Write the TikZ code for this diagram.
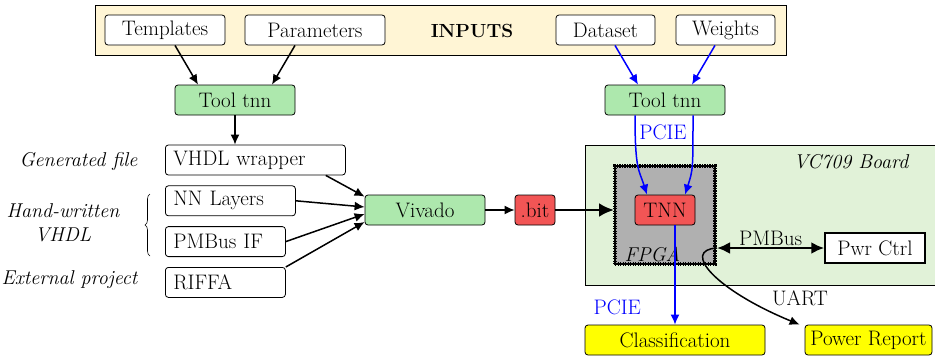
\documentclass[tikz,border=0pt]{standalone}
\usetikzlibrary{arrows.meta,positioning,decorations.pathreplacing}

\definecolor{inyellow}{RGB}{255,245,213}
\definecolor{toolgreen}{RGB}{173,232,173}
\definecolor{boardgreen}{RGB}{225,242,216}
\definecolor{bitred}{RGB}{242,85,85}
\definecolor{fpgagray}{RGB}{176,176,176}
\definecolor{outyellow}{RGB}{255,255,0}

\tikzset{
  box/.style={draw, rounded corners=3pt, line width=0.8pt, minimum height=30pt, inner sep=2pt},
  inbox/.style={box, fill=white},
  toolbox/.style={box, fill=toolgreen, minimum width=120pt},
  redbox/.style={box, fill=bitred},
  outbox/.style={box, fill=outyellow},
  srcbox/.style={box, fill=white, align=left, inner xsep=8pt, text width=#1},
  lbl/.style={font=\fontsize{20}{24}\selectfont\itshape},
  arr/.style={-{Latex[length=10pt,width=9pt]}, line width=1.5pt},
  blarr/.style={arr, blue},
  fatarr/.style={-{Latex[length=15pt,width=14pt]}, line width=2.8pt},
}

\begin{document}
\begin{tikzpicture}[x=1pt, y=-1pt, font=\fontsize{21}{25}\selectfont]
\useasboundingbox (0,0) rectangle (935,359);

    % inputs
    \node[draw, fill=inyellow, line width=0.8pt, minimum width=691pt, minimum height=50pt, inner sep=0pt] (inputs) at (440.5,30) {};
    \node[inbox, minimum width=120pt] (templates) at (165,30) {Templates};
    \node[inbox, minimum width=140pt, right of=templates, node distance=150pt] (params) {Parameters};
    \node[font=\fontsize{19}{23}\selectfont\bfseries] (inlabel) at (472,31) {INPUTS};
    \node[inbox, minimum width=99pt] (dataset) at (605.5,30) {Dataset};
    \node[inbox, minimum width=99pt, right of=dataset, node distance=120pt] (weights) {Weights};

    \node[toolbox] (tool1) at (235,100) {Tool tnn};
    \node[toolbox, right of=tool1, node distance=430pt] (tool2) {Tool tnn};

    % vhdl sources
    \node[srcbox=164pt, anchor=west] (wrapper) at (165,160) {VHDL wrapper};
    \node[srcbox=114pt, below right=10pt and 0pt of wrapper.south west] (nnlayers) {NN Layers};
    \node[srcbox=104pt, below right=10pt and 0pt of nnlayers.south west] (pmbusif) {PMBus IF};
    \node[srcbox=104pt, below right=10pt and 0pt of pmbusif.south west] (riffa) {RIFFA};

    \node[lbl, anchor=east] (genlbl) at (141,161) {Generated file};
    \node[lbl, align=center] (handlbl) at (63,223) {Hand-written\\VHDL};
    \node[lbl, anchor=east] (extlbl) at (141,280) {External project};
    \draw[decorate, decoration={brace, amplitude=5pt}, line width=0.6pt] (150,256) -- (150,194);

    \node[toolbox] (vivado) at (425,210) {Vivado};
    \node[redbox, minimum width=40pt] (bit) at (535,210) {.bit};

    % board
    \node[draw, fill=boardgreen, line width=0.8pt, minimum width=350pt, minimum height=140pt, inner sep=0pt] (board) at (760,215) {};
    \node[lbl, anchor=east] (boardlbl) at (912,162) {VC709 Board};
    \node[draw, fill=fpgagray, line width=4pt, dash pattern=on 1.2pt off 1.3pt, minimum width=100pt, minimum height=98pt, inner sep=0pt, outer sep=0pt] (fpga) at (665,215) {};
    \draw[line width=1.6pt] (fpga.north west) rectangle (fpga.south east);
    \node[lbl, anchor=base west] (fpgalbl) at (621,261) {FPGA};
    \node[redbox, minimum width=60pt] (tnn) at (665,210) {TNN};
    \node[draw, fill=white, line width=1.5pt, minimum width=100pt, minimum height=30pt] (pwr) at (875,248) {Pwr Ctrl};

    \node[outbox, minimum width=180pt] (classif) at (675,340) {Classification};
    \node[outbox, minimum width=127pt] (report) at (868.5,340) {Power Report};

    % flow
    \draw[arr] ([xshift=10pt]templates.south) -- ([xshift=-37pt]tool1.north);
    \draw[arr] ([xshift=-20pt]params.south) -- ([xshift=37pt]tool1.north);
    \draw[blarr] ([xshift=9.5pt]dataset.south) -- ([xshift=-27pt]tool2.north);
    \draw[blarr] ([xshift=-10.5pt]weights.south) -- ([xshift=27pt]tool2.north);
    \draw[arr] (tool1.south) -- (tool1.south |- wrapper.north);

    \draw[arr] ([xshift=-20pt]wrapper.south east) -- ([yshift=-2pt]vivado.north west);
    \draw[arr] (nnlayers.east) -- ([yshift=3pt]vivado.west);
    \draw[arr] (pmbusif.east) -- ([yshift=-4pt]vivado.west);
    \draw[arr] (riffa.north east) -- ([yshift=-12pt]vivado.west);
    \draw[arr] (vivado) -- (bit);
    \draw[fatarr] (bit.east) -- ([xshift=-1pt]bit.east -| fpga.west);

    \draw[blarr] ([xshift=-30pt]tool2.south) .. controls +(0,55) and +(-8,-25) .. ([xshift=-18pt]tnn.north);
    \draw[blarr] ([xshift=28pt]tool2.south) .. controls +(0,55) and +(8,-25) .. ([xshift=20pt]tnn.north);
    \node[text=blue] (pcietop) at (663,132) {PCIE};
    \draw[blarr] ([xshift=10pt]tnn.south) -- (classif.north)
        node[pos=0.83, left=30pt] {PCIE};

    \coordinate (pmb) at ([xshift=2pt]fpga.east |- pwr.west);
    \draw[{Latex[length=13pt,width=12pt]}-{Latex[length=13pt,width=12pt]}, line width=2.5pt] (pmb) -- (pwr.west) node[midway, above=-2pt] {PMBus};
    \draw[arr] (pmb) .. controls +(-36,2) and +(-85,-35) .. ([xshift=-5pt]report.north west);
    \node (uartlbl) at (800,298) {UART};

\end{tikzpicture}
\end{document}
